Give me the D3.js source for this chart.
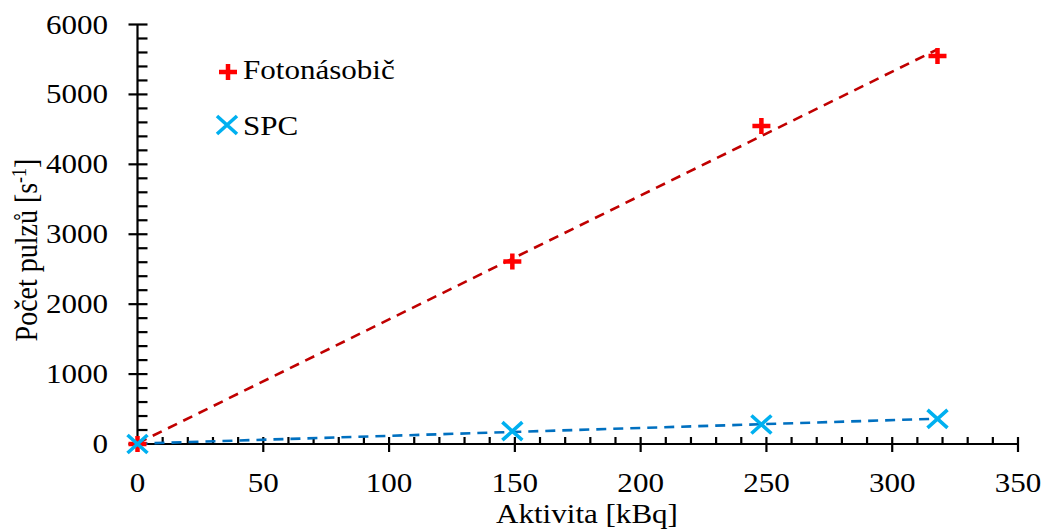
<!DOCTYPE html>
<html><head><meta charset="utf-8">
<script src="https://cdn.jsdelivr.net/npm/d3@7"></script>
<style>html,body{margin:0;padding:0;background:#fff;overflow:hidden}</style>
</head><body>
<svg id="c" width="1045" height="531"></svg>
<script>
const activity = [0, 149, 248, 318];
const fotonasobic = [0, 2610, 4550, 5550];
const spc = [0, 183, 279, 360];
const seriesNames = ["Fotonásobič", "SPC"];
const xTicks = [0, 50, 100, 150, 200, 250, 300, 350];
const yTicks = [0, 1000, 2000, 3000, 4000, 5000, 6000];
const xLabel = "Aktivita [kBq]";
const yLabel = "Počet pulzů [s";

const svg = d3.select("#c");
const FONT = "'Liberation Serif', 'Times New Roman', serif";
const FS = 27, SX = 1.15;
const x = d3.scaleLinear().domain([0, 350]).range([137.5, 1018]);
const y = d3.scaleLinear().domain([0, 6000]).range([444, 24.5]);

function txt(px, py, s, anchor, rot) {
  return svg.append("text")
    .attr("transform", `translate(${px},${py}) scale(${SX},1)` + (rot ? ` rotate(${rot})` : ""))
    .attr("text-anchor", anchor || "start")
    .attr("font-family", FONT).attr("font-size", FS).attr("fill", "#000").text(s);
}

function fit(xs, ys) {
  const mx = d3.mean(xs), my = d3.mean(ys);
  let sxy = 0, sxx = 0;
  xs.forEach((v, i) => { sxy += (v - mx) * (ys[i] - my); sxx += (v - mx) ** 2; });
  const b = sxy / sxx; return { b, a: my - b * mx };
}

// axes
const ax = svg.append("g");
ax.append("line").attr("x1", x(0)).attr("x2", x(350)).attr("y1", y(0)).attr("y2", y(0)).attr("stroke", "#000").attr("stroke-width", 2.2);
ax.append("line").attr("x1", x(0)).attr("x2", x(0)).attr("y1", y(0)).attr("y2", y(6000)).attr("stroke", "#000").attr("stroke-width", 2.2);
d3.range(0, 351, 10).forEach(v => {
  const major = v % 50 === 0;
  if (v === 0) return;
  ax.append("line").attr("x1", x(v)).attr("x2", x(v)).attr("y1", y(0) - 7).attr("y2", y(0) + (major ? 8 : 0)).attr("stroke", "#000").attr("stroke-width", 2.2);
});
d3.range(0, 6001, 200).forEach(v => {
  const major = v % 1000 === 0;
  if (v === 0) return;
  ax.append("line").attr("y1", y(v)).attr("y2", y(v)).attr("x1", x(0) - (major ? 9 : 0)).attr("x2", x(0) + 10).attr("stroke", "#000").attr("stroke-width", 2.2);
});
ax.append("line").attr("y1", y(0)).attr("y2", y(0)).attr("x1", x(0) - 9).attr("x2", x(0)).attr("stroke", "#000").attr("stroke-width", 2.2);
ax.append("line").attr("x1", x(0)).attr("x2", x(0)).attr("y1", y(0)).attr("y2", y(0) + 8).attr("stroke", "#000").attr("stroke-width", 2.2);

xTicks.forEach(v => txt(x(v), 492, v, "middle"));
yTicks.forEach(v => txt(108, y(v) + 9, v, "end"));
txt(587, 523, xLabel, "middle");
const yl = svg.append("text")
  .attr("transform", `translate(37,250) scale(${SX},1) rotate(-90)`)
  .attr("text-anchor", "middle").attr("font-family", FONT).attr("font-size", 28);
yl.append("tspan").text(yLabel);
yl.append("tspan").attr("font-size", 18).attr("dy", -10).text("-1");
yl.append("tspan").attr("dy", 10).text("]");

// trendlines
const sets = [
  { ys: fotonasobic, line: "#C00000", mark: "#FF0000", type: "plus" },
  { ys: spc, line: "#0070C0", mark: "#00B0F0", type: "x" }
];
sets.forEach(s => {
  const f = fit(activity, s.ys);
  const x0 = d3.min(activity), x1 = d3.max(activity);
  svg.append("line").attr("x1", x(x0)).attr("y1", y(f.a + f.b * x0)).attr("x2", x(x1)).attr("y2", y(f.a + f.b * x1))
    .attr("stroke", s.line).attr("stroke-width", 2.6).attr("stroke-dasharray", "10,7");
});

function marker(g, type, cx, cy, col) {
  if (type === "plus") {
    g.append("path").attr("d", `M${cx - 9},${cy}H${cx + 9}M${cx},${cy - 8}V${cy + 8}`)
      .attr("stroke", col).attr("stroke-width", 4.5).attr("fill", "none");
  } else {
    g.append("path").attr("d", `M${cx - 10},${cy - 9}L${cx + 10},${cy + 9}M${cx - 10},${cy + 9}L${cx + 10},${cy - 9}`)
      .attr("stroke", col).attr("stroke-width", 3.6).attr("fill", "none");
  }
}
sets.forEach(s => {
  const g = svg.append("g");
  activity.forEach((v, i) => marker(g, s.type, x(v), y(s.ys[i]), s.mark));
});

// legend
const lg = svg.append("g");
marker(lg, "plus", 228, 72, "#FF0000");
txt(243, 79, seriesNames[0]);
marker(lg, "x", 227, 125, "#00B0F0");
txt(243, 135, seriesNames[1]);
</script>
</body></html>
